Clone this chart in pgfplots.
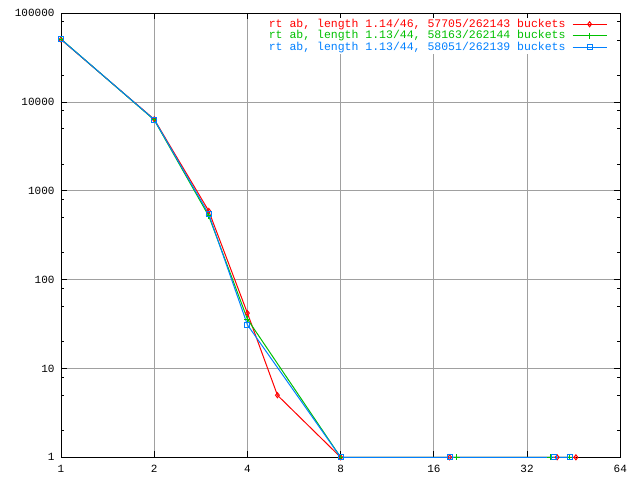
\documentclass[border=0pt]{standalone}
\usepackage{pgfplots}
\pgfplotsset{compat=1.18}
\usepackage{fontspec}
\setmonofont{Liberation Mono}
\definecolor{gred}{RGB}{255,0,0}
\definecolor{ggreen}{RGB}{0,192,0}
\definecolor{gblue}{RGB}{0,128,255}
\definecolor{ggrid}{RGB}{160,160,160}
\begin{document}
\begin{tikzpicture}
\path (0,0) rectangle (640pt,480pt);
\begin{axis}[
  at={(61pt,22.7pt)}, anchor=south west,
  scale only axis, width=559.3pt, height=444pt,
  xmode=log, ymode=log, log basis x=2, log basis y=10,
  xmin=1, xmax=64, ymin=1, ymax=100000,
  xtick={1,2,4,8,16,32,64}, xticklabels={1,2,4,8,16,32,64},
  ytick={1,10,100,1000,10000,100000},
  yticklabels={1,10,100,1000,10000,100000},
  minor xtick={},
  minor ytick={2,5,8,20,50,80,200,500,800,2000,5000,8000,20000,50000,80000},
  /pgf/number format/assume math mode=true,
  tick label style={font=\ttfamily\fontsize{11}{13}\selectfont, black},
  xticklabel style={yshift=-4pt},
  yticklabel style={xshift=-3pt},
  tick align=inside,
  major tick length=6pt, minor tick length=3pt,
  tick style={black, line width=1pt},
  axis line style={black, line width=1pt},
  xmajorgrids, ymajorgrids,
  major grid style={ggrid, line width=1pt},
  clip=false,
  legend style={at={(rel axis cs:1,1)}, anchor=north east, xshift=-12pt, yshift=-4pt,
    draw=none, fill=white, inner sep=1pt, row sep=0pt, column sep=6pt,
    font=\ttfamily\fontsize{11.5}{13}\selectfont,
    nodes={text height=8pt, text depth=2.5pt, inner sep=0.5pt}},
  legend cell align=right,
  legend plot pos=right,
  legend image code/.code={\draw[mark repeat=2,mark phase=2] plot coordinates {(0pt,0pt) (17pt,0pt) (34pt,0pt)};},
]
\addplot[gred, line width=1pt, mark=diamond, mark size=2.5pt, mark options={solid}] coordinates {
 (1,50660) (2,6400) (3,594) (4,42) (5,5) (8,1) (18,1) (40,1) (46,1)};
\addlegendentry{\textcolor{gred}{rt ab, length 1.14/46, 57705/262143 buckets}}
\addplot[ggreen, line width=1pt, mark=+, mark size=3pt] coordinates {
 (1,51300) (2,6300) (3,522) (4,36) (8,1) (19,1) (38,1) (44,1)};
\addlegendentry{\textcolor{ggreen}{rt ab, length 1.13/44, 58163/262144 buckets}}
\addplot[gblue, line width=1pt, mark=square, mark size=2.5pt] coordinates {
 (1,51100) (2,6350) (3,549) (4,31) (8,1) (18,1) (39,1) (44,1)};
\addlegendentry{\textcolor{gblue}{rt ab, length 1.13/44, 58051/262139 buckets}}
\end{axis}
\end{tikzpicture}
\end{document}
